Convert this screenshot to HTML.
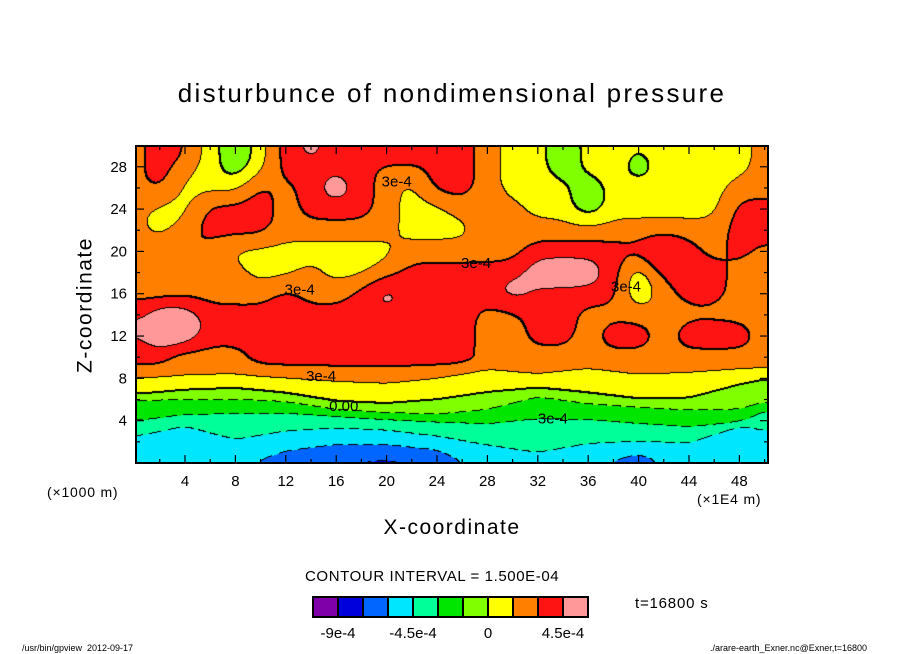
<!DOCTYPE html>
<html><head><meta charset="utf-8"><style>
body{margin:0;background:#fff;}
#wrap{position:relative;width:904px;height:654px;overflow:hidden;background:#fff;font-family:"Liberation Sans",sans-serif;color:#000;}
.t{position:absolute;white-space:nowrap;line-height:1;}
</style></head><body>
<div id="wrap">
<div class="t" style="left:0;width:904px;text-align:center;top:80px;font-size:26px;letter-spacing:2.3px;">disturbunce of nondimensional pressure</div>
<div class="t" style="left:85px;top:305px;font-size:21px;letter-spacing:1.5px;transform:translate(-50%,-50%) rotate(-90deg);">Z-coordinate</div>
<div class="t" style="left:0;width:904px;text-align:center;top:517px;font-size:21px;letter-spacing:1.5px;">X-coordinate</div>
<div class="t" style="left:47px;top:485px;font-size:14px;letter-spacing:0.8px;">(×1000 m)</div>
<div class="t" style="left:697px;top:492px;font-size:14px;letter-spacing:0.8px;">(×1E4 m)</div>
<canvas id="cv" width="632" height="317" style="position:absolute;left:136px;top:146px;"></canvas>
<svg id="ax" width="904" height="654" style="position:absolute;left:0;top:0;"></svg>
<div class="t" style="left:305px;top:569px;font-size:15px;letter-spacing:0.6px;">CONTOUR INTERVAL = 1.500E-04</div>
<div class="t" style="left:635px;top:596px;font-size:15px;letter-spacing:0.8px;">t=16800 s</div>
<div class="t" style="left:22px;top:644px;font-size:9px;">/usr/bin/gpview&nbsp;&nbsp;2012-09-17</div>
<div class="t" style="right:37px;top:644px;font-size:9px;">./arare-earth_Exner.nc@Exner,t=16800</div>
</div>
<script>
// grid x positions (×1E4 m) and z rows (×1000 m), values in 1e-4 units
const gridX = [0,2,4,6,8,10,12,14,16,18,20,22,24,26,28,30,32,34,36,38,40,42,44,46,48,50];
const gridZ = [30,28,26,24,22,20,18,16,14,12,10];
const row30 = [2.2,3.8,3.8,0.8,-1.5,0.8,3.8,6.0,3.8,3.8,6.0,6.0,3.8,3.8,2.2,0.8,0.8,-1.5,0.8,0.8,0.8,0.8,0.8,0.8,0.8,2.2];
const row28 = [2.2,3.8,2.2,0.8,-1.5,0.8,3.8,3.8,3.8,3.8,2.2,2.2,3.8,3.8,2.2,0.8,0.8,-1.5,0.8,0.8,-1.5,0.8,0.8,0.8,0.8,2.2];
const row26 = [2.2,3.8,0.8,0.8,0.8,3.8,2.2,3.8,6.0,3.8,2.2,0.8,3.8,3.8,2.2,0.8,0.8,0.8,-1.5,0.8,0.8,0.8,0.8,0.8,2.2,2.2];
const row24 = [2.2,0.8,0.8,3.8,3.8,3.8,2.2,3.8,3.8,3.8,2.2,0.8,0.8,2.2,2.2,2.2,0.8,0.8,-1.5,0.8,0.8,0.8,0.8,0.8,3.8,3.8];
const row22 = [2.2,0.8,2.2,3.8,3.8,3.8,2.2,2.2,2.2,2.2,2.2,0.8,0.8,0.8,2.2,2.2,2.2,2.2,2.2,2.2,2.2,2.2,2.2,2.2,3.8,3.8];
const row20 = [2.2,2.2,3.8,2.2,0.8,0.8,0.8,0.8,0.8,0.8,0.8,2.2,2.2,2.2,2.2,2.2,3.8,3.8,3.8,3.8,3.8,6.0,3.8,2.2,3.8,2.2];
const row18 = [2.2,0.8,2.2,2.2,2.2,0.8,0.8,2.2,0.8,0.8,2.2,3.8,3.8,3.8,3.8,3.8,6.0,6.0,6.0,3.8,-0.3,3.8,3.8,3.8,2.2,2.2];
const row16 = [2.2,2.2,2.2,2.2,2.2,2.2,3.8,2.2,2.2,3.8,6.0,3.8,3.8,3.8,3.8,6.0,3.8,3.8,3.8,3.8,-0.3,2.2,3.8,3.8,2.2,2.2];
const row14 = [3.8,6.0,6.0,3.8,3.8,3.8,3.8,3.8,3.8,3.8,3.8,3.8,3.8,3.8,2.2,2.2,3.8,3.8,2.2,2.2,2.2,2.2,2.2,2.2,2.2,2.2];
const row12 = [3.8,6.0,6.0,3.8,3.8,3.8,3.8,3.8,3.8,3.8,3.8,3.8,3.8,3.8,2.2,2.2,3.8,3.8,2.2,4.4,4.4,2.2,4.4,4.4,4.4,2.2];
const row10 = [3.8,3.8,2.2,2.2,2.2,3.8,3.8,3.8,3.8,3.8,3.8,3.8,3.8,3.8,2.2,2.2,2.2,2.2,2.2,2.2,2.2,2.2,2.2,2.2,2.2,2.2];
// lower-layer contour heights (×1000 m) at profile x positions
const profX = [0,4,8,12,16,20,24,28,32,36,40,44,48,50];
const h1p5 = [8.0,8.2,8.3,8.0,7.7,7.5,8.0,8.8,8.3,8.9,8.3,8.5,8.8,8.9];
const h0   = [6.4,6.9,7.1,6.6,5.8,5.6,6.0,6.7,7.1,6.6,6.0,6.1,7.5,8.0];
const hm1p5= [6.0,6.0,6.0,5.8,5.0,4.7,4.5,5.0,6.3,5.6,5.3,5.0,5.0,5.6];
const hm3  = [3.9,4.5,4.7,4.7,4.4,4.1,3.9,3.7,4.2,4.1,3.7,3.4,3.7,5.0];
const hm4p5= [2.5,3.6,2.2,3.0,3.3,3.1,2.5,1.7,0.9,1.8,2.0,1.9,3.7,3.1];
const hm6  = [0.3,-1,-0.6,1.1,1.7,1.7,1.2,-1,-1,-0.4,0.8,-1,-1,-1];
const xTicks = [4,8,12,16,20,24,28,32,36,40,44,48];
const zTicks = [4,8,12,16,20,24,28];
const barLabels = ["-9e-4","-4.5e-4","0","4.5e-4"];
const barLabelIdx = [0,3,6,9];
const bandColors = ["#7f00a8","#0000dd","#0066ff","#00e6ff","#00ff99","#00e600","#7fff00","#ffff00","#ff7f00","#ff1414","#ff9999"];
const contourLabels = ["3e-4","3e-4","3e-4","3e-4","3e-4","0.00","-3e-4"];
const contourLabelX = [20.8,13.1,27.1,39.0,14.8,16.6,33.0];
const contourLabelZ = [26.6,16.4,18.9,16.7,8.2,5.4,4.2];

const rows=[row30,row28,row26,row24,row22,row20,row18,row16,row14,row12,row10];
const X0=134.6, XS=12.6, ZB=463, ZS=10.58;
function sx(x){return X0+x*XS;}
function sz(z){return ZB-z*ZS;}
function interp1(xs,ys,x){
  if(x<=xs[0])return ys[0];
  for(let i=1;i<xs.length;i++){if(x<=xs[i]){const t=(x-xs[i-1])/(xs[i]-xs[i-1]);return ys[i-1]+t*(ys[i]-ys[i-1]);}}
  return ys[ys.length-1];
}
function gridRow(r,x){return interp1(gridX,rows[r],x);}
function field(x,z){
  if(z>=10){
    let rf=(30-z)/2; if(rf<0)rf=0; if(rf>10)rf=10;
    const r0=Math.floor(rf), r1=Math.min(10,r0+1), t=rf-r0;
    return gridRow(r0,x)*(1-t)+gridRow(r1,x)*t;
  }
  const hs=[10,interp1(profX,h1p5,x),interp1(profX,h0,x),interp1(profX,hm1p5,x),interp1(profX,hm3,x),interp1(profX,hm4p5,x),interp1(profX,hm6,x)];
  const vs=[gridRow(10,x),1.5,0,-1.5,-3,-4.5,-6];
  for(let i=1;i<hs.length;i++){
    if(z>=hs[i]){const t=(z-hs[i])/(hs[i-1]-hs[i]);return vs[i]+t*(vs[i-1]-vs[i]);}
  }
  const n=hs.length-1, slope=(vs[n-1]-vs[n])/(hs[n-1]-hs[n]);
  return vs[n]+(z-hs[n])*slope;
}
function band(v){let b=Math.floor(v/1.5)+7;return Math.max(0,Math.min(10,b));}
function hex(c){return [parseInt(c.substr(1,2),16),parseInt(c.substr(3,2),16),parseInt(c.substr(5,2),16)];}
const cv=document.getElementById('cv'),ctx=cv.getContext('2d');
const W=632,H=317,F=new Float32Array(W*H),B=new Uint8Array(W*H);
for(let j=0;j<H;j++)for(let i=0;i<W;i++){
  const x=(136+i+0.5-X0)/XS, z=(ZB-(146+j+0.5))/ZS;
  F[j*W+i]=field(x,z);
}
function blur(R){
  const T=new Float32Array(W*H);
  for(let j=0;j<H;j++){const z=(ZB-(146+j))/ZS;const r=z>9?R:Math.max(3,Math.round(R/2));for(let i=0;i<W;i++){let s=0,c=0;for(let d=-r;d<=r;d++){const ii=i+d;if(ii>=0&&ii<W){s+=F[j*W+ii];c++;}}T[j*W+i]=s/c;}}
  for(let i=0;i<W;i++){for(let j=0;j<H;j++){const z=(ZB-(146+j))/ZS;const r=z>10.5?R:2;let s=0,c=0;for(let d=-r;d<=r;d++){const jj=j+d;if(jj>=0&&jj<H){s+=T[jj*W+i];c++;}}F[j*W+i]=s/c;}}
}
blur(10);blur(10);blur(8);
for(let k=0;k<W*H;k++)B[k]=band(F[k]);
const img=ctx.createImageData(W,H),rgb=bandColors.map(hex);
for(let k=0;k<W*H;k++){const c=rgb[B[k]];img.data[k*4]=c[0];img.data[k*4+1]=c[1];img.data[k*4+2]=c[2];img.data[k*4+3]=255;}
function blk(i,j){if(i<0||j<0||i>=W||j>=H)return;const k=(j*W+i)*4;img.data[k]=0;img.data[k+1]=0;img.data[k+2]=0;}
for(let j=0;j<H;j++)for(let i=0;i<W;i++){
  const b=B[j*W+i];
  const nb=[i+1<W?B[j*W+i+1]:b, j+1<H?B[(j+1)*W+i]:b];
  for(const o of nb){
    if(o!==b){
      const lvl=Math.max(o,b);
      const neg=lvl<7;
      if(neg && (Math.floor((i+j)/5)%3===2))continue;
      blk(i,j);
      if(lvl===9||lvl===7){blk(i+1,j);blk(i,j+1);}
    }
  }
}
ctx.putImageData(img,0,0);

const NS='http://www.w3.org/2000/svg',svg=document.getElementById('ax');
function el(tag,attrs){const e=document.createElementNS(NS,tag);for(const k in attrs)e.setAttribute(k,attrs[k]);svg.appendChild(e);return e;}
for(let i=0;i<contourLabels.length;i++){
  const bx=sx(contourLabelX[i]),by=sz(contourLabelZ[i]);
  const t=el('text',{x:bx,y:by+5,'font-size':15,'font-family':'Liberation Sans, sans-serif','text-anchor':'middle',fill:'#000'});
  t.textContent=contourLabels[i];
  
  
}
const fr=el('rect',{x:136,y:146,width:632,height:317,fill:'none',stroke:'#000','stroke-width':2});


for(let v=2;v<=50;v+=2){
  const L=(v%4===0)?8:4,x=sx(v);
  const a=el('line',{x1:x,y1:463,x2:x,y2:463-L,stroke:'#000','stroke-width':1.2});
  
  
  const b=el('line',{x1:x,y1:146,x2:x,y2:146+L,stroke:'#000','stroke-width':1.2});
  
  
}
for(let v=2;v<=30;v+=2){
  const L=(v%4===0)?8:4,y=sz(v);
  const a=el('line',{x1:136,y1:y,x2:136+L,y2:y,stroke:'#000','stroke-width':1.2});
  
  
  const b=el('line',{x1:768,y1:y,x2:768-L,y2:y,stroke:'#000','stroke-width':1.2});
  
  
}
for(const v of xTicks){
  const t=el('text',{x:sx(v),y:486,'font-size':15,'font-family':'Liberation Sans, sans-serif','text-anchor':'middle'});
  t.textContent=String(v);
  
  
}
for(const v of zTicks){
  const t=el('text',{x:127,y:sz(v)+5,'font-size':15,'font-family':'Liberation Sans, sans-serif','text-anchor':'end'});
  t.textContent=String(v);
  
  
}
const CB0=313,CBW=25,CBY=597,CBH=20;
for(let i=0;i<bandColors.length;i++){
  const r=el('rect',{x:CB0+i*CBW,y:CBY,width:CBW,height:CBH,fill:bandColors[i],stroke:'#000','stroke-width':2});
  
  
}
for(let i=0;i<barLabels.length;i++){
  const t=el('text',{x:CB0+(barLabelIdx[i]+1)*CBW,y:638,'font-size':15,'font-family':'Liberation Sans, sans-serif','text-anchor':'middle'});
  t.textContent=barLabels[i];
  
  
}
</script>
</body></html>
